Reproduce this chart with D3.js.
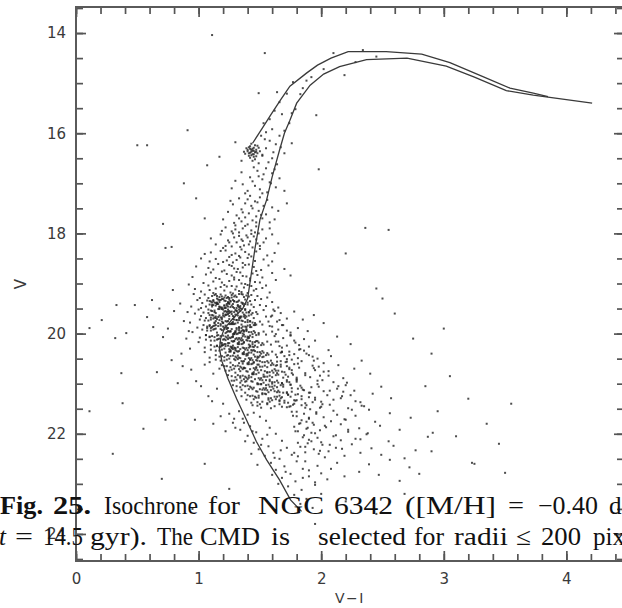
<!doctype html>
<html>
<head>
<meta charset="utf-8">
<script src="https://d3js.org/d3.v7.min.js"></script>
<style>
  body { margin: 0; background: #fff; }
  .tick line { stroke: #555; stroke-width: 1.7; }
  .tick text { fill: #3a3a3a; }
</style>
</head>
<body>
<svg width="622" height="608"></svg>
<script>
var clumpStars = [[1.44,16.35],[1.42,16.31],[1.46,16.38],[1.41,16.40],[1.45,16.29],[1.43,16.44],[1.47,16.33],[1.40,16.36],[1.44,16.42],[1.48,16.40],[1.42,16.26],[1.45,16.47],[1.39,16.30],[1.46,16.24],[1.43,16.37],[1.50,16.36],[1.41,16.45],[1.44,16.31],[1.47,16.46],[1.38,16.41],[1.45,16.35],[1.42,16.49],[1.49,16.29],[1.43,16.21],[1.46,16.52],[1.40,16.33],[1.52,16.43],[1.44,16.55],[1.37,16.37],[1.48,16.25],[1.42,16.39],[1.45,16.42],[1.41,16.28],[1.47,16.37],[1.43,16.33]];

var giantStars = [[1.49,15.20],[1.54,14.40],[1.96,15.64],[2.19,14.84],[2.34,14.34],[2.10,14.40],[1.58,15.72],[1.62,15.55],[1.66,15.38],[1.72,15.21],[1.77,14.98],[1.83,15.22],[1.88,14.95],[1.79,15.52],[1.74,15.80],[1.70,15.95],[1.66,16.05],[1.60,15.92],[1.55,15.98],[1.53,15.80],[1.68,15.62],[1.76,15.60],[2.02,14.72],[2.28,14.58],[2.45,14.47],[1.92,14.88],[1.85,15.10],[1.64,15.18],[1.51,16.05],
[1.58,16.15],[1.63,16.22],[1.55,16.30],[1.67,16.28],[1.52,16.45],[1.60,16.50],[1.70,16.40],[1.57,16.58],[1.64,16.62],[1.35,16.55],[1.30,16.18],[1.76,16.20],[1.61,16.38],[1.54,16.12],[1.49,16.60],
[1.55,16.70],[1.48,16.75],[1.60,16.80],[1.42,16.88],[1.52,16.92],[1.58,16.98],[1.36,17.02],[1.46,17.05],[1.63,17.08],[1.50,17.12],[1.40,17.15],[1.56,17.18],[1.30,16.95],[1.45,16.68],[1.66,16.90],[1.53,16.82],[1.38,17.20],[1.59,17.00],[1.44,16.96],[1.27,17.10],[1.70,17.15],[1.49,16.86],[1.35,16.78],[1.62,16.72],[1.52,17.20],
[1.42,17.25],[1.50,17.28],[1.33,17.30],[1.56,17.33],[1.46,17.36],[1.38,17.40],[1.28,17.42],[1.53,17.45],[1.60,17.48],[1.44,17.50],[1.35,17.52],[1.49,17.55],[1.24,17.57],[1.41,17.60],[1.55,17.62],[1.31,17.64],[1.47,17.66],[1.38,17.68],[1.52,17.70],[1.20,17.72],[1.44,17.74],[1.35,17.76],[1.58,17.78],[1.29,17.79],[1.48,17.38],[1.65,17.55],[1.40,17.32],[1.36,17.58],[1.51,17.63],[1.26,17.35],[1.62,17.72],[1.43,17.45],[1.72,17.40],[1.47,17.78],[1.33,17.70],
[1.40,17.82],[1.30,17.84],[1.47,17.86],[1.22,17.88],[1.36,17.90],[1.52,17.92],[1.43,17.94],[1.27,17.96],[1.33,17.98],[1.49,18.00],[1.18,18.02],[1.39,18.04],[1.45,18.06],[1.29,18.08],[1.55,18.10],[1.35,18.12],[1.24,18.14],[1.42,18.16],[1.31,18.18],[1.48,18.20],[1.14,18.22],[1.37,18.24],[1.27,18.26],[1.44,18.28],[1.20,18.29],[1.60,18.02],[1.38,17.85],[1.25,18.18],[1.50,18.25],[1.33,18.05],[1.46,17.98],[1.41,18.22],[1.58,17.90],[1.10,18.10],[1.30,17.92],[1.36,18.15],[1.53,18.18],[1.22,18.25],[1.43,18.01],[1.65,18.20],[1.28,18.00],[1.47,18.12],[1.34,18.27],[1.19,17.95],[1.40,18.08]];

var subgiantStars = [[1.35,18.32],[1.22,18.34],[1.47,18.36],[1.10,18.38],[1.30,18.40],[1.41,18.42],[1.56,18.44],[1.18,18.35],[1.27,18.43],[1.38,18.37],[1.05,18.41],[1.50,18.31],[1.62,18.39],[1.33,18.45],
[1.25,18.47],[1.40,18.49],[1.14,18.51],[1.31,18.53],[1.46,18.55],[1.20,18.57],[1.36,18.59],[1.02,18.50],[1.53,18.52],[1.28,18.58],[1.43,18.46],[1.09,18.56],[1.34,18.48],[1.60,18.56],[1.23,18.54],
[1.16,18.61],[1.38,18.63],[1.27,18.65],[1.45,18.67],[1.08,18.69],[1.32,18.71],[1.51,18.73],[1.21,18.74],[1.41,18.62],[0.98,18.66],[1.29,18.70],[1.36,18.68],[1.57,18.64],[1.12,18.72],[1.47,18.75],[1.25,18.63],[1.70,18.71],
[1.19,18.76],[1.34,18.78],[1.44,18.80],[1.06,18.82],[1.27,18.84],[1.39,18.86],[1.52,18.88],[1.14,18.89],[1.31,18.77],[1.23,18.81],[1.48,18.83],[0.95,18.87],[1.36,18.85],[1.60,18.79],[1.10,18.78],[1.42,18.90],[1.29,18.88],[1.75,18.84],
[1.17,18.91],[1.33,18.93],[1.25,18.95],[1.46,18.97],[1.04,18.99],[1.38,19.01],[1.21,19.03],[1.55,19.04],[1.29,18.92],[1.12,18.96],[1.42,18.94],[1.35,19.00],[0.92,19.02],[1.50,18.98],[1.27,19.05],[1.63,18.93],[1.08,19.04],[1.40,19.03],[1.19,18.98],
[1.23,19.06],[1.37,19.08],[1.14,19.10],[1.30,19.12],[1.45,19.14],[1.02,19.16],[1.26,19.18],[1.40,19.19],[1.18,19.07],[1.33,19.15],[1.52,19.09],[1.09,19.13],[1.28,19.20],[1.43,19.05],[0.97,19.11],[1.35,19.17],[1.21,19.14],[1.58,19.18],[1.12,19.19],[1.47,19.11],[1.31,19.06]];

var turnoffStars = [[1.14,19.21],[1.22,19.24],[1.31,19.27],[1.08,19.29],[1.36,19.22],[1.19,19.26],[1.27,19.28],[1.43,19.23],[1.11,19.25],[1.33,19.21],[1.25,19.29],[1.17,19.27],[1.39,19.24],[1.05,19.22],[1.29,19.26],[1.21,19.28],[1.48,19.25],[1.13,19.23],[1.35,19.21],[1.24,19.27],[1.01,19.29],[1.41,19.26],[1.18,19.22],[1.30,19.24],[1.56,19.28],[1.27,19.23],[1.15,19.25],[1.37,19.27],[0.96,19.21],[1.23,19.29],
[1.20,19.31],[1.28,19.33],[1.10,19.36],[1.35,19.38],[1.16,19.32],[1.42,19.35],[1.24,19.39],[1.07,19.34],[1.31,19.37],[1.19,19.31],[1.46,19.33],[1.26,19.36],[1.13,19.38],[1.38,19.32],[1.22,19.35],[1.03,19.39],[1.33,19.34],[1.17,19.37],[1.51,19.31],[1.29,19.36],[1.12,19.33],[1.40,19.38],[1.25,19.32],[1.09,19.35],[1.36,19.39],[1.21,19.34],[1.60,19.37],[1.15,19.30],[1.32,19.36],[0.99,19.33],
[1.23,19.41],[1.12,19.43],[1.34,19.45],[1.18,19.48],[1.40,19.42],[1.06,19.46],[1.29,19.49],[1.21,19.44],[1.45,19.47],[1.15,19.41],[1.37,19.44],[1.26,19.47],[1.09,19.42],[1.32,19.45],[1.19,19.48],[1.50,19.43],[1.24,19.46],[1.02,19.49],[1.36,19.41],[1.14,19.44],[1.28,19.47],[1.43,19.42],[1.17,19.46],[1.31,19.49],[1.11,19.43],[1.55,19.45],[1.22,19.48],[1.38,19.41],[0.94,19.46],[1.27,19.44],[1.65,19.48],
[1.16,19.51],[1.30,19.53],[1.21,19.56],[1.41,19.58],[1.08,19.52],[1.34,19.55],[1.25,19.59],[1.13,19.54],[1.47,19.57],[1.19,19.51],[1.38,19.53],[1.27,19.56],[1.04,19.58],[1.33,19.52],[1.22,19.55],[1.44,19.59],[1.10,19.54],[1.29,19.57],[1.17,19.51],[1.53,19.53],[1.24,19.56],[1.36,19.58],[1.00,19.52],[1.31,19.55],[1.14,19.59],[1.42,19.54],[1.26,19.57],[1.19,19.50],[1.62,19.55],[0.91,19.57],[1.35,19.51],
[1.24,19.61],[1.11,19.63],[1.35,19.66],[1.19,19.68],[1.43,19.62],[1.28,19.65],[1.06,19.69],[1.32,19.64],[1.16,19.67],[1.48,19.61],[1.22,19.63],[1.39,19.66],[1.13,19.68],[1.30,19.62],[1.02,19.65],[1.45,19.69],[1.20,19.64],[1.34,19.67],[1.27,19.61],[1.09,19.63],[1.55,19.66],[1.18,19.68],[1.37,19.62],[1.25,19.65],[1.14,19.69],[1.41,19.64],[1.29,19.67],[0.97,19.60],[1.60,19.64],[1.21,19.66],[1.33,19.69],
[1.15,19.71],[1.31,19.73],[1.23,19.76],[1.44,19.78],[1.10,19.72],[1.36,19.75],[1.27,19.79],[1.05,19.74],[1.40,19.77],[1.19,19.71],[1.33,19.73],[1.50,19.76],[1.13,19.78],[1.29,19.72],[1.22,19.75],[1.46,19.79],[1.08,19.74],[1.38,19.77],[1.25,19.71],[1.17,19.73],[1.57,19.76],[1.32,19.78],[1.01,19.72],[1.42,19.75],[1.20,19.79],[1.35,19.74],[1.28,19.77],[1.12,19.70],[1.66,19.73],[0.93,19.78],[1.24,19.75],
[1.26,19.81],[1.14,19.83],[1.38,19.86],[1.21,19.88],[1.47,19.82],[1.09,19.85],[1.33,19.89],[1.18,19.84],[1.42,19.87],[1.29,19.81],[1.04,19.83],[1.36,19.86],[1.23,19.88],[1.52,19.82],[1.16,19.85],[1.31,19.89],[1.40,19.84],[1.11,19.87],[1.27,19.81],[1.45,19.83],[1.20,19.86],[0.99,19.88],[1.35,19.82],[1.58,19.85],[1.24,19.89],[1.13,19.84],[1.39,19.87],[1.30,19.80],[1.07,19.86],[1.68,19.83],[1.22,19.84],
[1.18,19.91],[1.33,19.93],[1.25,19.96],[1.46,19.98],[1.12,19.92],[1.39,19.95],[1.29,19.99],[1.07,19.94],[1.43,19.97],[1.21,19.91],[1.36,19.93],[1.53,19.96],[1.15,19.98],[1.31,19.92],[1.24,19.95],[1.49,19.99],[1.10,19.94],[1.41,19.97],[1.27,19.91],[1.19,19.93],[1.60,19.96],[1.34,19.98],[1.03,19.92],[1.45,19.95],[1.22,19.99],[1.37,19.94],[1.30,19.97],[1.14,19.90],[1.72,19.94],[0.95,19.97],[1.26,19.95],
[1.28,20.01],[1.16,20.03],[1.40,20.06],[1.23,20.08],[1.49,20.02],[1.11,20.05],[1.35,20.09],[1.20,20.04],[1.44,20.07],[1.31,20.01],[1.06,20.03],[1.38,20.06],[1.25,20.08],[1.55,20.02],[1.18,20.05],[1.33,20.09],[1.42,20.04],[1.13,20.07],[1.29,20.01],[1.47,20.03],[1.22,20.06],[1.01,20.08],[1.37,20.02],[1.62,20.05],[1.26,20.09],[1.15,20.04],[1.41,20.07],[1.32,20.00],[1.09,20.06],[1.75,20.03],[1.24,20.04],
[1.21,20.11],[1.36,20.13],[1.28,20.16],[1.49,20.18],[1.15,20.12],[1.42,20.15],[1.32,20.19],[1.10,20.14],[1.46,20.17],[1.24,20.11],[1.39,20.13],[1.56,20.16],[1.18,20.18],[1.34,20.12],[1.27,20.15],[1.52,20.19],[1.13,20.14],[1.44,20.17],[1.30,20.11],[1.22,20.13],[1.63,20.16],[1.37,20.18],[1.06,20.12],[1.48,20.15],[1.25,20.19],[1.40,20.14],[1.33,20.17],[1.17,20.10],[1.78,20.14],[1.00,20.17],[1.29,20.15],
[1.32,20.21],[1.20,20.23],[1.44,20.26],[1.27,20.28],[1.53,20.22],[1.15,20.25],[1.39,20.29],[1.24,20.24],[1.48,20.27],[1.35,20.21],[1.10,20.23],[1.42,20.26],[1.29,20.28],[1.59,20.22],[1.22,20.25],[1.37,20.29],[1.46,20.24],[1.17,20.27],[1.33,20.21],[1.51,20.23],[1.26,20.26],[1.05,20.28],[1.41,20.22],[1.66,20.25],[1.30,20.29],[1.19,20.24],[1.45,20.27],[1.36,20.20],[1.13,20.26],[1.82,20.23],[1.28,20.24],
[1.25,20.31],[1.40,20.33],[1.32,20.36],[1.53,20.38],[1.19,20.32],[1.46,20.35],[1.36,20.39],[1.14,20.34],[1.50,20.37],[1.28,20.31],[1.43,20.33],[1.60,20.36],[1.22,20.38],[1.38,20.32],[1.31,20.35],[1.56,20.39],[1.17,20.34],[1.48,20.37],[1.34,20.31],[1.26,20.33],[1.68,20.36],[1.41,20.38],[1.10,20.32],[1.52,20.35],[1.29,20.39],[1.44,20.34],[1.37,20.37],[1.21,20.30],[1.86,20.34],[1.05,20.37],[1.33,20.35],
[1.36,20.41],[1.24,20.43],[1.48,20.46],[1.31,20.48],[1.57,20.42],[1.19,20.45],[1.43,20.49],[1.28,20.44],[1.52,20.47],[1.39,20.41],[1.14,20.43],[1.46,20.46],[1.33,20.48],[1.63,20.42],[1.26,20.45],[1.41,20.49],[1.50,20.44],[1.21,20.47],[1.37,20.41],[1.55,20.43],[1.30,20.46],[1.09,20.48],[1.45,20.42],[1.70,20.45],[1.34,20.49],[1.23,20.44],[1.49,20.47],[1.40,20.40],[1.17,20.46],[1.90,20.43],[1.32,20.44],
[1.29,20.51],[1.44,20.53],[1.36,20.56],[1.57,20.58],[1.23,20.52],[1.50,20.55],[1.40,20.59],[1.18,20.54],[1.54,20.57],[1.32,20.51],[1.47,20.53],[1.64,20.56],[1.26,20.58],[1.42,20.52],[1.35,20.55],[1.60,20.59],[1.21,20.54],[1.52,20.57],[1.38,20.51],[1.30,20.53],[1.72,20.56],[1.45,20.58],[1.14,20.52],[1.56,20.55],[1.33,20.59],[1.48,20.54],[1.41,20.57],[1.25,20.50],[1.94,20.54],[1.09,20.57],[1.37,20.55]];

// extra stars in the darkest part of the turnoff blob and its lower-right tail
var coreStars = [[1.17,19.47],[1.32,20.12],[1.09,19.83],[1.26,19.35],[1.41,20.28],[1.22,19.62],[1.13,19.91],[1.36,20.05],[1.28,19.41],[1.19,19.76],[1.45,20.33],[1.11,19.55],[1.30,19.98],[1.24,20.19],[1.38,19.69],[1.15,19.38],[1.27,20.07],[1.33,19.87],[1.20,19.52],[1.42,20.24],[1.12,19.64],[1.35,19.95],[1.23,19.44],[1.29,20.15],[1.16,19.79],[1.39,19.58],[1.25,20.36],[1.31,19.73],[1.18,19.33],[1.44,20.01],[1.10,19.89],[1.34,19.49],[1.21,20.21],[1.37,19.66],[1.26,19.96],[1.14,19.39],[1.40,20.09],[1.28,19.81],[1.23,19.57],[1.32,20.27],
[1.19,20.19],[1.34,19.69],[1.11,19.38],[1.28,20.07],[1.43,19.87],[1.24,19.52],[1.15,20.24],[1.38,19.64],[1.30,19.95],[1.21,19.44],[1.47,20.15],[1.13,19.79],[1.32,19.58],[1.26,20.36],[1.40,19.73],[1.17,19.33],[1.29,20.01],[1.35,19.89],[1.22,19.49],[1.44,20.21],[1.14,19.66],[1.37,19.96],[1.25,19.39],[1.31,20.09],[1.18,19.81],[1.41,19.57],[1.27,20.27],[1.33,19.47],[1.20,20.12],[1.46,19.83],[1.12,19.35],[1.36,20.28],[1.23,19.62],[1.39,19.91],[1.28,20.05],[1.16,19.41],[1.42,19.76],[1.30,20.33],[1.25,19.55],[1.34,19.98],
[1.14,19.75],[1.29,19.35],[1.06,20.03],[1.23,19.91],[1.38,19.51],[1.19,20.23],[1.10,19.68],[1.33,19.98],[1.25,19.41],[1.16,20.11],[1.42,19.83],[1.08,19.59],[1.27,20.29],[1.21,19.49],[1.35,20.14],[1.12,19.85],[1.24,19.37],[1.30,20.30],[1.17,19.64],[1.39,19.93],[1.09,20.07],[1.32,19.43],[1.20,19.78],[1.26,20.35],[1.13,19.57],[1.36,20.00],[1.22,20.21],[1.28,19.71],[1.15,19.40],[1.41,20.09],[1.07,19.89],[1.31,19.54],[1.18,20.26],[1.34,19.66],[1.23,19.97],[1.11,19.46],[1.37,20.17],[1.25,19.81],[1.20,19.60],[1.29,20.38],
[1.42,20.52],[1.57,21.17],[1.34,20.88],[1.51,20.40],[1.66,21.33],[1.47,20.67],[1.38,20.96],[1.61,21.10],[1.53,20.46],[1.44,20.81],[1.70,21.38],[1.36,20.60],[1.55,21.03],[1.49,21.24],[1.63,20.74],[1.40,20.43],[1.52,21.12],[1.58,20.92],[1.45,20.57],[1.67,21.29],[1.37,20.69],[1.60,21.00],[1.48,20.49],[1.54,21.20],[1.41,20.84],[1.64,20.63],[1.50,21.41],[1.56,20.78],[1.43,20.38],[1.69,21.06],[1.35,20.94],[1.59,20.54],[1.46,21.26],[1.62,20.71],[1.51,21.01],[1.39,20.44],[1.65,21.14],[1.53,20.86],[1.48,20.62],[1.57,21.32]];

var lowerTurnoffStars = [[1.40,20.61],[1.28,20.63],[1.52,20.66],[1.35,20.68],[1.61,20.62],[1.23,20.65],[1.47,20.69],[1.32,20.64],[1.56,20.67],[1.43,20.61],[1.19,20.63],[1.50,20.66],[1.37,20.68],[1.67,20.62],[1.30,20.65],[1.45,20.69],[1.54,20.64],[1.26,20.67],[1.41,20.61],[1.59,20.63],[1.34,20.66],[1.74,20.68],[1.49,20.62],[1.21,20.65],[1.38,20.69],[1.63,20.64],[1.44,20.60],[1.98,20.66],
[1.33,20.71],[1.48,20.73],[1.40,20.76],[1.61,20.78],[1.27,20.72],[1.54,20.75],[1.44,20.79],[1.22,20.74],[1.58,20.77],[1.36,20.71],[1.51,20.73],[1.68,20.76],[1.30,20.78],[1.46,20.72],[1.39,20.75],[1.64,20.79],[1.25,20.74],[1.56,20.77],[1.42,20.71],[1.76,20.73],[1.49,20.78],[1.34,20.75],[1.60,20.74],[1.45,20.77],[1.29,20.70],[2.02,20.76],
[1.44,20.81],[1.32,20.83],[1.56,20.86],[1.39,20.88],[1.65,20.82],[1.27,20.85],[1.51,20.89],[1.36,20.84],[1.60,20.87],[1.47,20.81],[1.24,20.83],[1.54,20.86],[1.41,20.88],[1.71,20.82],[1.34,20.85],[1.49,20.89],[1.58,20.84],[1.30,20.87],[1.45,20.81],[1.63,20.83],[1.38,20.86],[1.80,20.88],[1.53,20.82],[1.43,20.87],[2.06,20.84],
[1.37,20.91],[1.52,20.93],[1.44,20.96],[1.65,20.98],[1.31,20.92],[1.58,20.95],[1.48,20.99],[1.27,20.94],[1.62,20.97],[1.40,20.91],[1.55,20.93],[1.72,20.96],[1.34,20.98],[1.50,20.92],[1.43,20.95],[1.68,20.99],[1.29,20.94],[1.60,20.97],[1.46,20.91],[1.80,20.93],[1.53,20.98],[1.39,20.95],[1.64,20.94],[2.10,20.97],
[1.48,21.01],[1.36,21.03],[1.60,21.06],[1.43,21.08],[1.69,21.02],[1.31,21.05],[1.55,21.09],[1.40,21.04],[1.64,21.07],[1.51,21.01],[1.28,21.03],[1.58,21.06],[1.45,21.08],[1.75,21.02],[1.38,21.05],[1.53,21.09],[1.62,21.04],[1.34,21.07],[1.49,21.01],[1.67,21.03],[1.42,21.06],[1.84,21.08],[1.57,21.02],[2.14,21.05],
[1.41,21.11],[1.56,21.13],[1.48,21.16],[1.69,21.18],[1.35,21.12],[1.62,21.15],[1.52,21.19],[1.31,21.14],[1.66,21.17],[1.44,21.11],[1.59,21.13],[1.76,21.16],[1.38,21.18],[1.54,21.12],[1.47,21.15],[1.72,21.19],[1.64,21.17],[1.50,21.11],[1.86,21.13],[2.18,21.16],
[1.52,21.21],[1.40,21.23],[1.64,21.26],[1.47,21.28],[1.73,21.22],[1.35,21.25],[1.59,21.29],[1.44,21.24],[1.68,21.27],[1.55,21.21],[1.62,21.26],[1.49,21.28],[1.79,21.22],[1.42,21.25],[1.57,21.29],[1.66,21.24],[1.90,21.27],[2.24,21.23],
[1.45,21.31],[1.60,21.33],[1.52,21.36],[1.73,21.38],[1.39,21.32],[1.66,21.35],[1.56,21.39],[1.70,21.34],[1.48,21.37],[1.63,21.31],[1.80,21.33],[1.58,21.36],[1.95,21.32],[1.43,21.38],[2.28,21.35],
[1.56,21.41],[1.44,21.43],[1.68,21.46],[1.51,21.48],[1.77,21.42],[1.62,21.45],[1.48,21.44],[1.72,21.47],[1.59,21.49],[1.84,21.43],[1.66,21.41],[2.00,21.46],[2.33,21.44],
[1.05,20.62],[1.12,20.80],[0.98,20.95],[1.15,21.10],[1.08,21.25],[1.20,21.40],[1.02,21.05],[1.17,20.70],[1.11,21.35],[0.94,20.72]];

// diffuse, reddened field population to the lower right of the turnoff
var reddenedStars = [[1.61,19.52],[1.78,19.56],[1.67,19.59],[1.94,19.63],[1.59,19.66],[1.72,19.70],[1.85,19.72],[1.64,19.76],[2.02,19.79],[1.69,19.83],[1.60,19.86],[1.81,19.89],[1.65,19.92],[1.89,19.95],[1.75,19.98],
[1.63,20.01],[1.75,20.04],[2.13,20.06],[1.69,20.09],[1.86,20.11],[1.95,20.14],[1.65,20.16],[1.79,20.18],[2.24,20.21],[1.72,20.24],[1.90,20.26],[1.68,20.28],[1.83,20.31],[2.06,20.33],[1.74,20.36],[1.67,20.38],[1.88,20.40],[1.74,20.43],[2.08,20.45],[1.64,20.47],[1.81,20.49],[1.97,20.50],
[1.76,20.52],[2.33,20.54],[1.84,20.55],[1.71,20.57],[2.02,20.59],[1.78,20.61],[2.14,20.63],[1.93,20.64],[1.67,20.66],[1.82,20.68],[2.27,20.70],[1.74,20.71],[1.95,20.73],[2.06,20.75],[1.70,20.77],[1.87,20.79],[2.40,20.80],[1.77,20.82],[1.99,20.84],[1.73,20.86],[1.91,20.87],[2.18,20.89],[1.80,20.91],[1.72,20.93],[1.97,20.94],[1.80,20.96],[2.21,20.98],[1.68,20.99],
[1.97,21.01],[2.20,21.03],[1.83,21.04],[2.49,21.06],[1.92,21.07],[1.76,21.09],[2.13,21.10],[1.85,21.12],[2.27,21.14],[2.02,21.15],[1.72,21.17],[1.90,21.18],[2.42,21.20],[1.81,21.21],[2.05,21.23],[2.17,21.25],[1.75,21.26],[1.95,21.28],[2.57,21.29],[1.84,21.31],[2.10,21.32],[1.79,21.34],[2.00,21.36],[2.32,21.37],[1.87,21.39],[1.78,21.40],[2.07,21.42],[1.88,21.43],[2.35,21.45],[1.74,21.46],[1.99,21.48],[2.22,21.49],
[1.91,21.51],[2.39,21.52],[2.10,21.54],[1.76,21.56],[1.96,21.57],[2.56,21.59],[1.86,21.60],[2.13,21.62],[2.28,21.64],[1.80,21.65],[2.02,21.67],[2.73,21.68],[1.90,21.70],[2.19,21.71],[1.84,21.73],[2.08,21.75],[2.44,21.76],[1.93,21.78],[1.83,21.79],[2.16,21.81],[1.94,21.82],[2.48,21.84],[1.78,21.86],[2.04,21.87],[2.31,21.89],[1.88,21.90],[2.64,21.92],[1.99,21.93],[1.81,21.95],[2.22,21.96],[1.92,21.98],[2.38,21.99],
[2.37,22.01],[1.86,22.03],[2.10,22.05],[2.87,22.06],[1.97,22.08],[2.28,22.10],[1.90,22.12],[2.16,22.13],[2.55,22.15],[2.00,22.17],[1.89,22.19],[2.25,22.21],[2.01,22.22],[2.59,22.24],[1.83,22.26],[2.12,22.28],[2.41,22.29],[1.94,22.31],[2.77,22.33],[2.06,22.35],[1.87,22.37],[2.32,22.38],[1.98,22.40],[2.49,22.42],[2.19,22.44],[1.81,22.45],[2.03,22.47],[2.68,22.49],
[2.56,22.52],[1.87,22.55],[2.13,22.58],[2.39,22.61],[1.97,22.64],[2.72,22.67],[2.08,22.70],[1.90,22.73],[2.31,22.76],[2.00,22.79],[2.47,22.82],[2.19,22.85],[1.85,22.88],[2.05,22.91],[2.64,22.94],[1.95,22.97],
[1.82,20.32],[1.68,20.37],[1.78,20.41],[1.93,20.46],[1.72,20.51],[1.67,20.55],[1.81,20.60],[1.72,20.65],[1.94,20.69],[1.65,20.74],[1.76,20.79],[1.87,20.83],[1.69,20.88],[2.01,20.93],[1.74,20.97],
[1.75,21.02],[1.98,21.06],[1.81,21.10],[2.07,21.14],[1.91,21.18],[1.73,21.22],[1.84,21.25],[2.16,21.29],[1.78,21.33],[1.93,21.37],[2.01,21.41],[1.75,21.45],[1.87,21.48],[2.25,21.52],[1.80,21.56],[1.96,21.60],[1.77,21.64],[1.90,21.68],
[2.20,21.72],[1.88,21.76],[1.82,21.80],[2.03,21.84],[1.89,21.88],[2.22,21.92],[1.79,21.95],[1.95,21.99],[2.12,22.03],[1.85,22.07],[2.32,22.11],[1.92,22.15],[1.81,22.18],[2.07,22.22],[1.87,22.26],[2.17,22.30],[1.99,22.34],[1.78,22.38]];

var dwarfStars = [[1.33,21.55],[1.40,21.62],[1.29,21.70],[1.45,21.58],[1.37,21.78],[1.50,21.66],[1.42,21.85],[1.55,21.74],[1.34,21.92],[1.47,21.97],[1.58,21.88],[1.40,22.04],[1.52,22.10],[1.63,22.00],[1.45,22.18],[1.57,22.25],[1.68,22.14],[1.49,22.31],[1.61,22.38],[1.72,22.28],[1.54,22.44],[1.66,22.50],[1.76,22.42],[1.59,22.58],[1.70,22.65],[1.80,22.55],[1.63,22.72],[1.75,22.80],[1.85,22.70],[1.68,22.88],[1.79,22.95],[1.90,22.85],[1.73,23.05],[1.84,23.12],[1.95,23.02],[1.78,23.22],[1.88,23.30],[2.00,23.20],[1.83,23.40],[1.93,23.48],[1.25,21.60],[1.30,21.88],[1.38,22.15],[1.43,22.40],[1.48,22.62],[1.60,22.82],[1.65,23.00],[1.36,21.70],[1.44,21.95],[1.51,22.22],[1.62,22.48],[1.71,22.76],[1.56,22.02],[1.67,22.33],[1.28,21.78],[1.18,21.65],[1.22,21.95],[1.12,21.80]];

var fieldStars = [[0.71,17.81],[0.73,18.29],[0.78,18.27],[0.79,19.13],[0.62,19.33],[0.33,19.43],[0.48,19.43],[0.21,19.73],[0.11,19.89],[0.32,20.09],[0.41,19.99],[0.58,19.67],[0.63,19.87],[0.71,20.07],[0.78,20.53],[0.37,20.79],[0.66,20.77],[0.83,20.99],[0.38,21.39],[0.11,21.55],[0.73,21.72],[0.55,21.90],[0.97,21.72],
[0.85,19.40],[0.88,19.75],[0.90,20.10],[0.86,20.40],[0.80,19.55],[0.92,19.95],[0.75,19.90],[0.68,19.50],[0.87,20.65],[0.93,20.30],
[0.50,16.24],[0.58,16.24],[0.91,15.94],[1.11,14.04],[1.17,16.47],[1.07,16.64],[0.98,17.30],[1.05,17.70],[0.88,17.00],
[2.36,17.89],[2.55,17.93],[1.98,16.72],[2.20,18.40],[2.45,19.10],[2.60,19.60],[2.75,20.10],[2.90,20.40],[3.05,20.85],[2.85,21.05],[3.20,21.30],[2.95,21.55],[3.35,21.80],[3.10,22.05],[2.90,22.35],[3.25,22.60],[3.45,22.20],[2.80,22.80],[3.55,21.40],[2.68,23.20],[2.20,23.35],[2.45,23.60],[1.95,23.80],[3.00,19.90],[2.50,19.30],[2.91,21.98],[3.23,22.58],[3.50,22.78],
[0.30,22.40],[0.70,22.90],[1.05,22.60],[1.25,23.10],[0.95,23.50]];

// isochrone: main sequence up to the giant branch tip, and the asymptotic branch
var isoMain = [[1.84,23.55],[1.75,23.32],[1.66,22.92],[1.555,22.52],[1.47,22.15],[1.39,21.72],[1.31,21.30],[1.24,20.90],[1.19,20.55],[1.17,20.30],[1.18,20.10],[1.21,19.90],[1.28,19.70],[1.36,19.50],[1.40,19.30],[1.43,18.80],[1.46,18.30],[1.50,17.73],[1.555,17.33],[1.60,16.87],[1.66,16.34],[1.70,16.00],[1.745,15.74],[1.80,15.40],[1.91,15.04],[2.02,14.82],[2.15,14.67],[2.37,14.53],[2.70,14.50],[3.02,14.66],[3.25,14.88],[3.51,15.15],[3.73,15.24],[3.85,15.28],[4.21,15.40]];
var isoAgb = [[1.44,16.20],[1.52,15.90],[1.59,15.63],[1.67,15.33],[1.745,15.06],[1.88,14.80],[1.97,14.64],[2.08,14.50],[2.22,14.37],[2.53,14.37],[2.82,14.42],[3.05,14.59],[3.30,14.85],[3.54,15.10],[3.73,15.20],[3.85,15.27]];

var xTicks = [0, 1, 2, 3, 4];
var yTicks = [14, 16, 18, 20, 22, 24];

var svg = d3.select("svg"),
    frame = {l: 76, r: 624, t: 7, b: 561};

var x = d3.scaleLinear().domain([0, 4.47]).range([frame.l, frame.r]),
    y = d3.scaleLinear().domain([13.48, 24.54]).range([frame.t, frame.b]);

svg.append("rect").attr("width", 622).attr("height", 608).attr("fill", "#fff");

var stars = [].concat(clumpStars, giantStars, subgiantStars, turnoffStars, coreStars,
                      lowerTurnoffStars, reddenedStars, dwarfStars, fieldStars);

svg.append("g")
   .selectAll("rect")
   .data(stars)
   .enter()
   .append("rect")
   .attr("x", function(d) { return x(d[0]) - 1; })
   .attr("y", function(d) { return y(d[1]) - 1; })
   .attr("width", 2)
   .attr("height", 2)
   .attr("fill", "#262626")
   .attr("fill-opacity", 0.82);

var line = d3.line()
    .x(function(d) { return x(d[0]); })
    .y(function(d) { return y(d[1]); });

[isoMain, isoAgb].forEach(function(iso) {
    svg.append("path")
       .datum(iso)
       .attr("d", line)
       .attr("fill", "none")
       .attr("stroke", "#3a3a3a")
       .attr("stroke-width", 1.3);
});

// inward ticks on all four sides
var xMinor = d3.range(0, 4.45, 0.2),
    yMinor = d3.range(13.5, 24.55, 0.5);

function axis(a, tx, ty) {
    var g = svg.append("g")
       .attr("transform", "translate(" + tx + "," + ty + ")")
       .call(a)
       .attr("font-family", "DejaVu Sans, sans-serif")
       .attr("font-size", 15);
    g.select(".domain").remove();
    return g;
}

axis(d3.axisBottom(x).tickValues(xMinor).tickSize(-7).tickFormat(""), 0, frame.b);
axis(d3.axisBottom(x).tickValues(xTicks).tickSize(-10).tickPadding(12).tickFormat(d3.format("d")), 0, frame.b);
axis(d3.axisTop(x).tickValues(xMinor).tickSize(-7).tickFormat(""), 0, frame.t);
axis(d3.axisTop(x).tickValues(xTicks).tickSize(-10).tickFormat(""), 0, frame.t);
axis(d3.axisLeft(y).tickValues(yMinor).tickSize(-7).tickFormat(""), frame.l, 0);
axis(d3.axisLeft(y).tickValues(yTicks).tickSize(-10).tickPadding(10).tickFormat(d3.format("d")), frame.l, 0);
axis(d3.axisRight(y).tickValues(yMinor).tickSize(-7).tickFormat(""), frame.r, 0);
axis(d3.axisRight(y).tickValues(yTicks).tickSize(-10).tickFormat(""), frame.r, 0);

svg.append("rect")
   .attr("x", frame.l).attr("y", frame.t)
   .attr("width", frame.r - frame.l).attr("height", frame.b - frame.t)
   .attr("fill", "none")
   .attr("stroke", "#5a5a5a")
   .attr("stroke-width", 2);

svg.append("text")
   .attr("x", (frame.l + frame.r) / 2).attr("y", 603)
   .attr("text-anchor", "middle")
   .attr("font-family", "DejaVu Sans, sans-serif")
   .attr("font-size", 14)
   .attr("letter-spacing", 1.5)
   .attr("fill", "#3a3a3a")
   .text("V\u2212I");

svg.append("text")
   .attr("transform", "translate(26," + (frame.t + frame.b) / 2 + ") rotate(-90)")
   .attr("text-anchor", "middle")
   .attr("font-family", "DejaVu Sans, sans-serif")
   .attr("font-size", 15)
   .attr("fill", "#3a3a3a")
   .text("V");

// caption pasted over the lower part of the figure: word, left edge, width, style
var caption = [
    {y: 514, words: [["Fig.", 0, 43, "b"], ["25.", 53, 38, "b"], ["Isochrone", 104, 94], ["for", 208, 32], ["NGC", 258, 66], ["6342", 334, 59], ["([M/H]", 405, 91], ["=", 508, 16], ["\u22120.40", 538, 60], ["dex", 609, 0]]},
    {y: 545, words: [["t", -1, 0, "i"], ["=", 15, 18], ["14.5", 43, 40], ["gyr).", 90, 57], ["The", 157, 36], ["CMD", 200, 60], ["is", 271, 19], ["selected", 318, 88], ["for", 414, 30], ["radii", 454, 54], ["\u2264", 516, 15], ["200", 541, 40], ["pixels.", 593, 0]]}
];

caption.forEach(function(row) {
    row.words.forEach(function(w) {
        var t = svg.append("text")
           .attr("x", w[1])
           .attr("y", row.y)
           .attr("font-family", "Liberation Serif, Times New Roman, serif")
           .attr("font-size", 25)
           .attr("fill", "#111")
           .attr("font-weight", w[3] == "b" ? "bold" : null)
           .attr("font-style", w[3] == "i" ? "italic" : null)
           .text(w[0]);
        if (w[2] > 0) t.attr("textLength", w[2]).attr("lengthAdjust", "spacingAndGlyphs");
    });
});
</script>
</body>
</html>
